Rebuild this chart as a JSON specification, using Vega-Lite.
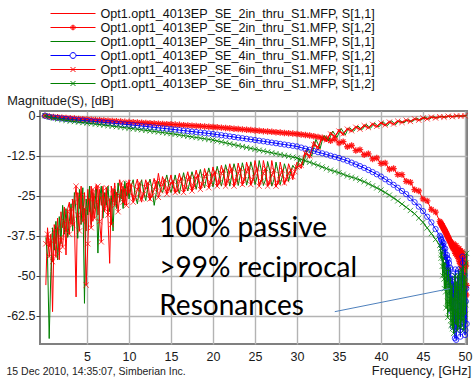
{
"$schema": "https://vega.github.io/schema/vega-lite/v6.json",
"width": 427, "height": 233,
"autosize": {"type": "none"},
"padding": {"left": 40, "top": 111, "right": 7, "bottom": 37},
"background": "white",
"config": {
  "view": {"stroke": "#808080", "strokeWidth": 2},
  "axis": {"labelFont": "Liberation Sans", "labelFontSize": 12.5, "labelColor": "#1a1a1a", "titleFont": "Liberation Sans", "titleFontSize": 12.8, "titleFontWeight": "normal", "titleColor": "#1a1a1a", "gridColor": "#b3b3b3", "gridWidth": 1.4, "domain": false, "tickColor": "#404040"},
  "legend": {"orient": "none", "legendX": 10, "legendY": -103.5, "direction": "vertical", "symbolSize": 2025, "symbolStrokeWidth": 1, "clipHeight": 12, "rowPadding": 1, "labelOffset": 4.5, "labelFont": "Liberation Sans", "labelFontSize": 12.6, "labelColor": "#111", "labelLimit": 400, "padding": 0, "symbolOpacity": 1}
},
"title": {"text": "15 Dec 2010, 14:35:07, Simberian Inc.", "orient": "bottom", "anchor": "start", "frame": "bounds", "offset": -10, "font": "Liberation Sans", "fontSize": 10.5, "fontWeight": "normal", "color": "#222"},
"datasets": {
"s11ac": [
{"fr":0.1,"a":-52.9,"c":-38},{"fr":0.3,"a":-35,"c":-44},{"fr":0.5,"a":-41,"c":-69.6},{"fr":0.7,"a":-37,"c":-48.7},{"fr":0.9,"a":-61.2,"c":-35},
{"fr":1.1,"a":-34,"c":-42},{"fr":1.3,"a":-40,"c":-33},{"fr":1.5,"a":-32,"c":-45},{"fr":1.7,"a":-45,"c":-31.5},{"fr":1.9,"a":-30,"c":-40},
{"fr":2.1,"a":-35,"c":-28},{"fr":2.3,"a":-28.5,"c":-37},{"fr":2.5,"a":-43.5,"c":-29},{"fr":2.7,"a":-29,"c":-38},{"fr":2.9,"a":-27,"c":-33},
{"fr":3.1,"a":-34,"c":-27.5},{"fr":3.3,"a":-26,"c":-36},{"fr":3.5,"a":-33,"c":-24},{"fr":3.7,"a":-56.6,"c":-30},{"fr":3.9,"a":-24,"c":-38.3},
{"fr":4.1,"a":-29,"c":-23},{"fr":4.3,"a":-22,"c":-34},{"fr":4.5,"a":-31,"c":-22.5},{"fr":4.7,"a":-24,"c":-58.6},{"fr":4.9,"a":-36,"c":-26},
{"fr":5.1,"a":-23,"c":-31},{"fr":5.3,"a":-30,"c":-22},{"fr":5.5,"a":-22,"c":-34},{"fr":5.7,"a":-33,"c":-24},{"fr":5.9,"a":-25,"c":-29},
{"fr":6.1,"a":-21.5,"c":-23},{"fr":6.3,"a":-31,"c":-42.9},{"fr":6.5,"a":-23,"c":-26},{"fr":6.7,"a":-28,"c":-22},{"fr":6.9,"a":-22,"c":-32},
{"fr":7.1,"a":-30,"c":-24},{"fr":7.3,"a":-24,"c":-28},{"fr":7.5,"a":-32,"c":-22},{"fr":7.7,"a":-46.1,"c":-30},{"fr":7.9,"a":-22,"c":-25},
{"fr":8.1,"a":-27,"c":-36},{"fr":8.3,"a":-21,"c":-23},{"fr":8.5,"a":-28,"c":-29},{"fr":8.7,"a":-23,"c":-21},{"fr":8.9,"a":-20,"c":-27},
{"fr":9.1,"a":-26,"c":-23},{"fr":9.3,"a":-22,"c":-29},{"fr":9.5,"a":-28,"c":-20.5},{"fr":9.7,"a":-21,"c":-25},{"fr":9.9,"a":-25,"c":-22},
{"fr":10,"a":-20,"c":-26},{"fr":10.25,"a":-24,"c":-22},{"fr":10.5,"a":-26.5,"c":-20},{"fr":10.75,"a":-22,"c":-25},
{"fr":11,"a":-19.8,"c":-27.5},{"fr":11.25,"a":-25,"c":-23},{"fr":11.5,"a":-27,"c":-20},{"fr":11.75,"a":-23,"c":-24},
{"fr":12,"a":-20,"c":-26.5},{"fr":12.25,"a":-24,"c":-22},{"fr":12.5,"a":-26.5,"c":-19.8},{"fr":12.75,"a":-22,"c":-23},
{"fr":13,"a":-19.6,"c":-28},{"fr":13.25,"a":-23,"c":-24},{"fr":13.5,"a":-18,"c":-20.5},{"fr":13.75,"a":-22,"c":-23},
{"fr":14,"a":-19,"c":-24},{"fr":14.25,"a":-23,"c":-21},{"fr":14.5,"a":-24,"c":-18.5},{"fr":14.75,"a":-21,"c":-22},
{"fr":15,"a":-18.5,"c":-24},{"fr":15.25,"a":-22,"c":-21.5},{"fr":15.5,"a":-24,"c":-18.5},{"fr":15.75,"a":-21,"c":-22},
{"fr":16,"a":-18,"c":-24.3},{"fr":16.25,"a":-21,"c":-21},{"fr":16.5,"a":-23.5,"c":-17.8},{"fr":16.75,"a":-20,"c":-21},
{"fr":17,"a":-17.5,"c":-23.5},{"fr":17.25,"a":-21,"c":-20.5},{"fr":17.5,"a":-23.5,"c":-17.5},{"fr":17.75,"a":-20,"c":-20},
{"fr":18,"a":-17,"c":-23},{"fr":18.25,"a":-20,"c":-19.5},{"fr":18.5,"a":-23,"c":-16.8},{"fr":18.75,"a":-20,"c":-20},
{"fr":19,"a":-16.5,"c":-22.5},{"fr":19.25,"a":-19,"c":-19},{"fr":19.5,"a":-22.5,"c":-16.3},{"fr":19.75,"a":-19.5,"c":-19},
{"fr":20,"a":-16,"c":-22.2},{"fr":20.25,"a":-19,"c":-19},{"fr":20.5,"a":-22.2,"c":-15.8},{"fr":20.75,"a":-19,"c":-18.5},
{"fr":21,"a":-15.5,"c":-22},{"fr":21.25,"a":-18,"c":-19},{"fr":21.5,"a":-22,"c":-15.3},{"fr":21.75,"a":-18.5,"c":-18},
{"fr":22,"a":-15,"c":-22},{"fr":22.25,"a":-18,"c":-18.5},{"fr":22.5,"a":-22,"c":-15},{"fr":22.75,"a":-19,"c":-17.5},
{"fr":23,"a":-14.8,"c":-21.8},{"fr":23.25,"a":-17.5,"c":-18.5},{"fr":23.5,"a":-21.8,"c":-14.7},{"fr":23.75,"a":-19,"c":-17.5},
{"fr":24,"a":-14.5,"c":-21.7},{"fr":24.25,"a":-17,"c":-19},{"fr":24.5,"a":-21.7,"c":-14.4},{"fr":24.75,"a":-19.5,"c":-17},
{"fr":25,"a":-14,"c":-21.5},{"fr":25.25,"a":-17,"c":-19},{"fr":25.5,"a":-21.5,"c":-14},{"fr":25.75,"a":-20,"c":-17},
{"fr":26,"a":-14,"c":-21.8},{"fr":26.25,"a":-17,"c":-20},{"fr":26.5,"a":-22,"c":-14.3},{"fr":26.75,"a":-20,"c":-17},
{"fr":27,"a":-14,"c":-22},{"fr":27.25,"a":-17.5,"c":-20},{"fr":27.5,"a":-22.3,"c":-14.5},{"fr":27.75,"a":-20,"c":-17.5},
{"fr":28,"a":-14.5,"c":-21.5},{"fr":28.25,"a":-17.5,"c":-19},{"fr":28.5,"a":-21.5,"c":-15},{"fr":28.75,"a":-19,"c":-17},
{"fr":29,"a":-15,"c":-20.5},{"fr":29.25,"a":-17,"c":-17.5},{"fr":29.5,"a":-20,"c":-15.5},{"fr":29.75,"a":-17,"c":-16.5},
{"fr":30,"a":-14.5,"c":-16.5},{"fr":30.25,"a":-15.5,"c":-13.5},{"fr":30.5,"a":-16.5,"c":-14.5},{"fr":30.75,"a":-13.5,"c":-15.5},
{"fr":31,"a":-10.8,"c":-12.8},{"fr":31.25,"a":-12,"c":-10},{"fr":31.5,"a":-13.3,"c":-11.3},{"fr":31.75,"a":-10.6,"c":-12.6},
{"fr":32,"a":-8,"c":-10},{"fr":32.25,"a":-9.4,"c":-7.4},{"fr":32.5,"a":-10.8,"c":-8.8},{"fr":32.75,"a":-8.3,"c":-10.3},
{"fr":33,"a":-6.6,"c":-7.8},{"fr":33.25,"a":-7.4,"c":-6.2},{"fr":33.5,"a":-8.2,"c":-7},{"fr":33.75,"a":-6.6,"c":-7.8},
{"fr":34,"a":-5.1,"c":-6.3},{"fr":34.25,"a":-6,"c":-4.8},{"fr":34.5,"a":-7,"c":-5.8},{"fr":34.75,"a":-5.6,"c":-6.8},
{"fr":35,"a":-4.2,"c":-5.4},{"fr":35.25,"a":-5.2,"c":-4},{"fr":35.5,"a":-6.2,"c":-5},{"fr":35.75,"a":-4.8,"c":-6},
{"fr":36,"a":-3.9,"c":-4.6},{"fr":36.25,"a":-4.45,"c":-3.75},{"fr":36.5,"a":-5,"c":-4.3},{"fr":36.75,"a":-4.15,"c":-4.85},
{"fr":37,"a":-3.3,"c":-4},{"fr":37.25,"a":-3.9,"c":-3.2},{"fr":37.5,"a":-4.5,"c":-3.8},{"fr":37.75,"a":-3.65,"c":-4.35},
{"fr":38,"a":-2.8,"c":-3.5},{"fr":38.25,"a":-3.4,"c":-2.7},{"fr":38.5,"a":-4,"c":-3.3},{"fr":38.75,"a":-3.2,"c":-3.9},
{"fr":39,"a":-2.4,"c":-3.1},{"fr":39.25,"a":-3,"c":-2.3},{"fr":39.5,"a":-3.6,"c":-2.9},{"fr":39.75,"a":-2.8,"c":-3.5},
{"fr":40,"a":-2,"c":-2.7},{"fr":40.25,"a":-2.6,"c":-1.9},{"fr":40.5,"a":-3.2,"c":-2.5},{"fr":40.75,"a":-2.45,"c":-3.15},
{"fr":41,"a":-1.65,"c":-2.35},{"fr":41.25,"a":-2.25,"c":-1.55},{"fr":41.5,"a":-2.9,"c":-2.2},{"fr":41.75,"a":-2.1,"c":-2.8},
{"fr":42,"a":-1.6,"c":-2},{"fr":42.25,"a":-1.95,"c":-1.55},{"fr":42.5,"a":-2.25,"c":-1.85},{"fr":42.75,"a":-1.8,"c":-2.2},
{"fr":43,"a":-1.3,"c":-1.7},{"fr":43.25,"a":-1.6,"c":-1.2},{"fr":43.5,"a":-1.9,"c":-1.5},{"fr":43.75,"a":-1.4,"c":-1.8},
{"fr":44,"a":-0.9,"c":-1.3},{"fr":44.25,"a":-1.2,"c":-0.8},{"fr":44.5,"a":-1.5,"c":-1.1},{"fr":44.75,"a":-1,"c":-1.4},
{"fr":45,"a":-0.5,"c":-0.9},{"fr":45.25,"a":-0.85,"c":-0.45},{"fr":45.5,"a":-1.15,"c":-0.75},{"fr":45.75,"a":-0.7,"c":-1.1},
{"fr":46,"a":-0.35,"c":-0.65},{"fr":46.25,"a":-0.6,"c":-0.3},{"fr":46.5,"a":-0.8,"c":-0.5},{"fr":46.75,"a":-0.45,"c":-0.75},
{"fr":47,"a":-0.2,"c":-0.4},{"fr":47.25,"a":-0.35,"c":-0.15},{"fr":47.5,"a":-0.5,"c":-0.3},{"fr":47.75,"a":-0.28,"c":-0.48},
{"fr":48,"a":-0.1,"c":-0.25},{"fr":48.25,"a":-0.2,"c":-0.05},{"fr":48.5,"a":-0.38,"c":-0.18},{"fr":48.75,"a":-0.15,"c":-0.35},
{"fr":49,"a":-0.02,"c":-0.1},{"fr":49.25,"a":-0.08,"c":-0.02},{"fr":49.5,"a":-0.2,"c":-0.05},{"fr":49.75,"a":-0.03,"c":-0.15},
{"fr":50,"a":0,"c":-0.05},{"fr":50.2,"a":-0.02,"c":0}
],
"s11e": [
{"fr":0.1,"e":-40},{"fr":0.3,"e":-37},{"fr":0.5,"e":-44},{"fr":0.7,"e":-39},{"fr":0.9,"e":-45.6},{"fr":1.1,"e":-36},{"fr":1.3,"e":-44},{"fr":1.5,"e":-35},{"fr":1.7,"e":-42},{"fr":1.9,"e":-38},
{"fr":2.1,"e":-41},{"fr":2.3,"e":-33},{"fr":2.5,"e":-36},{"fr":2.7,"e":-30},{"fr":2.9,"e":-37},{"fr":3.1,"e":-29},{"fr":3.3,"e":-34},{"fr":3.5,"e":-27},{"fr":3.7,"e":-22},{"fr":3.9,"e":-31},
{"fr":4.1,"e":-36},{"fr":4.3,"e":-25},{"fr":4.5,"e":-33},{"fr":4.7,"e":-29},{"fr":4.9,"e":-52.9},{"fr":5.1,"e":-40},{"fr":5.3,"e":-26},{"fr":5.5,"e":-35},{"fr":5.7,"e":-23},{"fr":5.9,"e":-32},
{"fr":6.1,"e":-27},{"fr":6.3,"e":-22},{"fr":6.5,"e":-33},{"fr":6.7,"e":-39.4},{"fr":6.9,"e":-25},{"fr":7.1,"e":-29},{"fr":7.3,"e":-22.5},{"fr":7.5,"e":-31},{"fr":7.7,"e":-26},{"fr":7.9,"e":-34},
{"fr":8.1,"e":-23},{"fr":8.3,"e":-28},{"fr":8.5,"e":-24},{"fr":8.7,"e":-30},{"fr":8.9,"e":-25},{"fr":9.1,"e":-21},{"fr":9.3,"e":-27},{"fr":9.5,"e":-23},{"fr":9.7,"e":-28},{"fr":9.9,"e":-21},
{"fr":10,"e":-24},{"fr":10.25,"e":-21.5},{"fr":10.5,"e":-27},{"fr":10.75,"e":-25.5},{"fr":11,"e":-23},{"fr":11.25,"e":-21},{"fr":11.5,"e":-26},{"fr":11.75,"e":-24.5},{"fr":12,"e":-22.5},{"fr":12.25,"e":-21},{"fr":12.5,"e":-26},{"fr":12.75,"e":-25},
{"fr":13,"e":-23},{"fr":13.25,"e":-20.5},{"fr":13.5,"e":-25.5},{"fr":13.75,"e":-23.5},{"fr":14,"e":-21.5},{"fr":14.25,"e":-20},{"fr":14.5,"e":-24.5},{"fr":14.75,"e":-23},
{"fr":15,"e":-21},{"fr":15.25,"e":-20.5},{"fr":15.5,"e":-24},{"fr":15.75,"e":-23.5},{"fr":16,"e":-20.5},{"fr":16.25,"e":-19.5},{"fr":16.5,"e":-24},{"fr":16.75,"e":-22.5},{"fr":17,"e":-20},{"fr":17.25,"e":-19},{"fr":17.5,"e":-23.5},{"fr":17.75,"e":-22},
{"fr":18,"e":-19.5},{"fr":18.25,"e":-18.5},{"fr":18.5,"e":-23},{"fr":18.75,"e":-21.5},{"fr":19,"e":-19},{"fr":19.25,"e":-18},{"fr":19.5,"e":-22.5},{"fr":19.75,"e":-21},
{"fr":20,"e":-18.5},{"fr":20.25,"e":-17.5},{"fr":20.5,"e":-22},{"fr":20.75,"e":-21},{"fr":21,"e":-18},{"fr":21.25,"e":-17},{"fr":21.5,"e":-22},{"fr":21.75,"e":-20.5},{"fr":22,"e":-17.5},{"fr":22.25,"e":-16.5},{"fr":22.5,"e":-22},{"fr":22.75,"e":-20.5},
{"fr":23,"e":-18},{"fr":23.25,"e":-16.5},{"fr":23.5,"e":-21.5},{"fr":23.75,"e":-20},{"fr":24,"e":-17.5},{"fr":24.25,"e":-16},{"fr":24.5,"e":-21.5},{"fr":24.75,"e":-20},
{"fr":25,"e":-18},{"fr":25.25,"e":-16.5},{"fr":25.5,"e":-22},{"fr":25.75,"e":-20.5},{"fr":26,"e":-18},{"fr":26.25,"e":-16.5},{"fr":26.5,"e":-22},{"fr":26.75,"e":-21},{"fr":27,"e":-18.5},{"fr":27.25,"e":-17},{"fr":27.5,"e":-22},{"fr":27.75,"e":-21},
{"fr":28,"e":-18.5},{"fr":28.25,"e":-17},{"fr":28.5,"e":-21},{"fr":28.75,"e":-20},{"fr":29,"e":-18},{"fr":29.25,"e":-17},{"fr":29.5,"e":-19},{"fr":29.75,"e":-17.5},
{"fr":30,"e":-16},{"fr":30.5,"e":-15.5},{"fr":31,"e":-11.8},{"fr":31.5,"e":-12.5},{"fr":32,"e":-9},{"fr":32.5,"e":-9.8},{"fr":33,"e":-7.2},{"fr":33.5,"e":-7.6},{"fr":34,"e":-5.7},{"fr":34.5,"e":-6.4},
{"fr":35,"e":-4.8},{"fr":35.5,"e":-5.6},{"fr":36,"e":-4.2},{"fr":36.5,"e":-4.7},{"fr":37,"e":-3.6},{"fr":37.5,"e":-4.2},{"fr":38,"e":-3.1},{"fr":38.5,"e":-3.7},{"fr":39,"e":-2.7},{"fr":39.5,"e":-3.3},
{"fr":40,"e":-2.3},{"fr":40.5,"e":-2.9},{"fr":41,"e":-2},{"fr":41.5,"e":-2.6},{"fr":42,"e":-1.7},{"fr":42.5,"e":-2.1},{"fr":43,"e":-1.4},{"fr":43.5,"e":-1.8},{"fr":44,"e":-1},{"fr":44.5,"e":-1.4},
{"fr":45,"e":-0.7},{"fr":45.5,"e":-1},{"fr":46,"e":-0.45},{"fr":46.5,"e":-0.7},{"fr":47,"e":-0.3},{"fr":47.5,"e":-0.45},{"fr":48,"e":-0.15},{"fr":48.5,"e":-0.3},{"fr":49,"e":-0.05},{"fr":49.5,"e":-0.15},{"fr":50,"e":0}
],
"s12": [
{"fr":0,"b":0,"d":0,"f":0},{"fr":0.5,"b":-0.25,"d":-0.35,"f":-0.5},{"fr":1,"b":-0.4,"d":-0.55,"f":-0.8},{"fr":1.5,"b":-0.5,"d":-0.7,"f":-1.05},{"fr":2,"b":-0.6,"d":-0.85,"f":-1.25},
{"fr":2.5,"b":-0.7,"d":-1,"f":-1.45},{"fr":3,"b":-0.8,"d":-1.12,"f":-1.65},{"fr":3.5,"b":-0.9,"d":-1.25,"f":-1.82},{"fr":4,"b":-1,"d":-1.38,"f":-2},{"fr":4.5,"b":-1.08,"d":-1.5,"f":-2.15},
{"fr":5,"b":-1.15,"d":-1.6,"f":-2.3},{"fr":5.5,"b":-1.24,"d":-1.72,"f":-2.46},{"fr":6,"b":-1.32,"d":-1.84,"f":-2.62},{"fr":6.5,"b":-1.41,"d":-1.96,"f":-2.78},{"fr":7,"b":-1.49,"d":-2.08,"f":-2.94},
{"fr":7.5,"b":-1.58,"d":-2.2,"f":-3.1},{"fr":8,"b":-1.66,"d":-2.32,"f":-3.26},{"fr":8.5,"b":-1.75,"d":-2.44,"f":-3.42},{"fr":9,"b":-1.83,"d":-2.56,"f":-3.58},{"fr":9.5,"b":-1.92,"d":-2.68,"f":-3.74},
{"fr":10,"b":-2,"d":-2.8,"f":-3.9},{"fr":10.5,"b":-2.07,"d":-2.94,"f":-4.07},{"fr":11,"b":-2.14,"d":-3.08,"f":-4.24},{"fr":11.5,"b":-2.21,"d":-3.22,"f":-4.41},{"fr":12,"b":-2.28,"d":-3.36,"f":-4.58},
{"fr":12.5,"b":-2.35,"d":-3.5,"f":-4.75},{"fr":13,"b":-2.42,"d":-3.64,"f":-4.92},{"fr":13.5,"b":-2.49,"d":-3.78,"f":-5.09},{"fr":14,"b":-2.56,"d":-3.92,"f":-5.26},{"fr":14.5,"b":-2.63,"d":-4.06,"f":-5.43},
{"fr":15,"b":-2.7,"d":-4.2,"f":-5.6},{"fr":15.5,"b":-2.78,"d":-4.35,"f":-5.8},{"fr":16,"b":-2.86,"d":-4.5,"f":-6},{"fr":16.5,"b":-2.94,"d":-4.65,"f":-6.2},{"fr":17,"b":-3.02,"d":-4.8,"f":-6.4},
{"fr":17.5,"b":-3.1,"d":-4.95,"f":-6.6},{"fr":18,"b":-3.18,"d":-5.1,"f":-6.8},{"fr":18.5,"b":-3.26,"d":-5.25,"f":-7},{"fr":19,"b":-3.34,"d":-5.4,"f":-7.2},{"fr":19.5,"b":-3.42,"d":-5.55,"f":-7.4},
{"fr":20,"b":-3.5,"d":-5.7,"f":-7.6},{"fr":20.5,"b":-3.61,"d":-5.89,"f":-7.89},{"fr":21,"b":-3.72,"d":-6.08,"f":-8.18},{"fr":21.5,"b":-3.83,"d":-6.27,"f":-8.47},{"fr":22,"b":-3.94,"d":-6.46,"f":-8.76},
{"fr":22.5,"b":-4.05,"d":-6.65,"f":-9.05},{"fr":23,"b":-4.16,"d":-6.84,"f":-9.34},{"fr":23.5,"b":-4.27,"d":-7.03,"f":-9.63},{"fr":24,"b":-4.38,"d":-7.22,"f":-9.92},{"fr":24.5,"b":-4.49,"d":-7.41,"f":-10.21},
{"fr":25,"b":-4.6,"d":-7.6,"f":-10.5},{"fr":25.5,"b":-4.71,"d":-7.8,"f":-10.77},{"fr":26,"b":-4.82,"d":-8,"f":-11.04},{"fr":26.5,"b":-4.93,"d":-8.2,"f":-11.31},{"fr":27,"b":-5.04,"d":-8.4,"f":-11.58},
{"fr":27.5,"b":-5.15,"d":-8.6,"f":-11.85},{"fr":28,"b":-5.26,"d":-8.8,"f":-12.12},{"fr":28.5,"b":-5.37,"d":-9,"f":-12.39},{"fr":29,"b":-5.48,"d":-9.2,"f":-12.66},{"fr":29.5,"b":-5.59,"d":-9.4,"f":-12.93},
{"fr":30,"b":-5.7,"d":-9.6,"f":-13.2},{"fr":30.5,"b":-5.85,"d":-9.95,"f":-13.65},{"fr":31,"b":-6,"d":-10.3,"f":-14.1},{"fr":31.5,"b":-6.2,"d":-10.65,"f":-14.55},{"fr":32,"b":-6.4,"d":-11,"f":-15},
{"fr":32.5,"b":-6.65,"d":-11.4,"f":-15.5},{"fr":33,"b":-6.9,"d":-11.75,"f":-16},{"fr":33.5,"b":-7.15,"d":-12.1,"f":-16.5},{"fr":34,"b":-7.8,"d":-12.5,"f":-17},{"fr":34.5,"b":-7.3,"d":-12.85,"f":-17.4},
{"fr":35,"b":-8.5,"d":-13.2,"f":-17.8},{"fr":35.5,"b":-8.1,"d":-13.65,"f":-18.3},{"fr":36,"b":-9.7,"d":-14.1,"f":-18.8},{"fr":36.5,"b":-9.3,"d":-14.65,"f":-19.2},{"fr":37,"b":-10.9,"d":-15.2,"f":-19.6},
{"fr":37.5,"b":-10.6,"d":-15.75,"f":-20.1},{"fr":38,"b":-12.2,"d":-16.3,"f":-20.6},{"fr":38.5,"b":-11.9,"d":-16.95,"f":-21.25},{"fr":39,"b":-13.5,"d":-17.6,"f":-21.9},{"fr":39.5,"b":-13.2,"d":-18.3,"f":-22.55},
{"fr":40,"b":-14.9,"d":-19,"f":-23.2},{"fr":40.5,"b":-14.8,"d":-19.85,"f":-24},{"fr":41,"b":-16.7,"d":-20.7,"f":-24.8},{"fr":41.5,"b":-16.5,"d":-21.6,"f":-25.7},{"fr":42,"b":-18.4,"d":-22.5,"f":-26.6},
{"fr":42.5,"b":-18.4,"d":-23.5,"f":-27.6},{"fr":43,"b":-20.5,"d":-24.5,"f":-28.6},{"fr":43.5,"b":-20.8,"d":-25.75,"f":-29.6},{"fr":44,"b":-23.1,"d":-27,"f":-30.6},{"fr":44.5,"b":-23.5,"d":-28.4,"f":-31.95},
{"fr":45,"b":-26,"d":-29.8,"f":-33.3},{"fr":45.5,"b":-26.6,"d":-31.55,"f":-35.05},{"fr":46,"b":-29.3,"d":-33.3,"f":-36.8},{"fr":46.5,"b":-30.1,"d":-35.4,"f":-38.65},{"fr":47,"b":-33,"d":-37.5,"f":-40.5},
{"fr":47.1,"b":-33.4,"d":-38,"f":-41.5},{"fr":47.2,"b":-33.9,"d":-38.8,"f":-43.5},{"fr":47.3,"b":-34.4,"d":-39.5,"f":-47},{"fr":47.4,"b":-34.9,"d":-40.5,"f":-44.5},{"fr":47.5,"b":-35.4,"d":-41.5,"f":-51},
{"fr":47.6,"b":-35.9,"d":-42.8,"f":-46},{"fr":47.7,"b":-36.4,"d":-44,"f":-55},{"fr":47.8,"b":-36.9,"d":-46.5,"f":-48},{"fr":47.9,"b":-37.5,"d":-44.5,"f":-58},{"fr":48,"b":-38,"d":-49,"f":-50},
{"fr":48.1,"b":-38.6,"d":-46,"f":-61},{"fr":48.2,"b":-39.2,"d":-53,"f":-53},{"fr":48.3,"b":-39.5,"d":-48,"f":-64},{"fr":48.4,"b":-40.3,"d":-58,"f":-55},{"fr":48.5,"b":-40.8,"d":-51,"f":-66.5},
{"fr":48.6,"b":-41.5,"d":-63,"f":-57},{"fr":48.7,"b":-40.6,"d":-54,"f":-62},{"fr":48.8,"b":-42.5,"d":-69.5,"f":-50},{"fr":48.9,"b":-41.2,"d":-57,"f":-65},{"fr":49,"b":-43.5,"d":-66,"f":-54},
{"fr":49.1,"b":-42,"d":-50,"f":-67},{"fr":49.2,"b":-44.5,"d":-61,"f":-58},{"fr":49.3,"b":-41.5,"d":-55,"f":-63},{"fr":49.4,"b":-46,"d":-67,"f":-49},{"fr":49.5,"b":-43,"d":-52,"f":-66},
{"fr":49.6,"b":-48,"d":-63,"f":-56},{"fr":49.7,"b":-42.5,"d":-44,"f":-61},{"fr":49.8,"b":-51,"d":-60,"f":-47},{"fr":49.9,"b":-44,"d":-54,"f":-64},{"fr":50,"b":-55.5,"d":-68.5,"f":-52},
{"fr":50.1,"b":-47,"d":-58,"f":-59},{"fr":50.2,"b":-53,"d":-65,"f":-43},
{"fr":47.15,"b":-33.7,"d":-38.6,"f":-44.5},{"fr":47.25,"b":-34.2,"d":-40.5,"f":-42.5},{"fr":47.35,"b":-34.7,"d":-42,"f":-50},{"fr":47.45,"b":-35.2,"d":-39.8,"f":-47},
{"fr":47.55,"b":-35.6,"d":-45,"f":-54},{"fr":47.65,"b":-36.1,"d":-41.5,"f":-49.5},{"fr":47.75,"b":-36.7,"d":-48.5,"f":-60},{"fr":47.85,"b":-37.2,"d":-43.5,"f":-52},
{"fr":47.95,"b":-37.8,"d":-52,"f":-63},{"fr":48.05,"b":-38.3,"d":-45,"f":-48},{"fr":48.15,"b":-38.9,"d":-56,"f":-59},{"fr":48.25,"b":-39.4,"d":-47.5,"f":-51},
{"fr":48.35,"b":-39.9,"d":-61,"f":-65.5},{"fr":48.45,"b":-40.6,"d":-50,"f":-53},{"fr":48.55,"b":-41.2,"d":-66,"f":-60},{"fr":48.65,"b":-40,"d":-52,"f":-68},
{"fr":48.75,"b":-41.8,"d":-64,"f":-56},{"fr":48.85,"b":-43,"d":-48,"f":-61},{"fr":48.95,"b":-40.5,"d":-70,"f":-52},{"fr":49.05,"b":-42.8,"d":-56,"f":-64},
{"fr":49.15,"b":-44,"d":-63,"f":-50},{"fr":49.25,"b":-41.8,"d":-48,"f":-66},{"fr":49.35,"b":-45.5,"d":-58,"f":-54},{"fr":49.45,"b":-42.2,"d":-69,"f":-62},
{"fr":49.55,"b":-47,"d":-50,"f":-48},{"fr":49.65,"b":-43.2,"d":-66,"f":-64},{"fr":49.75,"b":-50,"d":-46,"f":-55},{"fr":49.85,"b":-44.8,"d":-63,"f":-67},
{"fr":49.95,"b":-53,"d":-50,"f":-50},{"fr":50.05,"b":-46,"d":-67,"f":-62},{"fr":50.15,"b":-56,"d":-54,"f":-46}
]
},
"encoding": {
  "x": {"field": "fr", "type": "quantitative", "scale": {"domain": [-0.595, 50.24], "nice": false, "zero": false},
        "axis": {"values": [5,10,15,20,25,30,35,40,45,50], "title": "Frequency, [GHz]", "titleX": 430.7, "titleY": 26, "titleAlign": "right", "titleBaseline": "middle", "ticks": false, "tickSize": 0, "labelPadding": 6, "labelFlush": false}},
  "y": {"field": "m", "type": "quantitative", "scale": {"domain": [-71.3, 1.47], "nice": false, "zero": false},
        "axis": {"values": [0,-12.5,-25,-37.5,-50,-62.5], "title": "Magnitude(S), [dB]", "titleAngle": 0, "titleAlign": "left", "titleBaseline": "middle", "titleX": -33.3, "titleY": -10.5, "labelExpr": "datum.value + ''", "tickSize": 4, "labelPadding": 1}}
},
"layer": [
  {"data": {"name": "s11ac"}, "transform": [{"fold": ["a"], "as": ["s", "m"]}], "mark": {"type": "line", "color": "#ff0000", "strokeWidth": 1}},
  {"data": {"name": "s12"}, "transform": [{"fold": ["b"], "as": ["s", "m"]}], "mark": {"type": "line", "color": "#ff0000", "strokeWidth": 1}},
  {"data": {"name": "s12"}, "transform": [{"fold": ["b"], "as": ["s", "m"]}], "mark": {"type": "point", "shape": "M-1,0L1,0M0,-1L0,1M-0.7,-0.7L0.7,0.7M-0.7,0.7L0.7,-0.7", "size": 42, "color": "#ff0000", "filled": false, "strokeWidth": 1.3, "opacity": 0.85}},
  {"data": {"name": "s11ac"}, "transform": [{"fold": ["c"], "as": ["s", "m"]}], "mark": {"type": "line", "color": "#008000", "strokeWidth": 1}},
  {"data": {"name": "s12"}, "transform": [{"fold": ["d"], "as": ["s", "m"]}], "mark": {"type": "line", "color": "#0000ff", "strokeWidth": 1}},
  {"data": {"name": "s12"}, "transform": [{"fold": ["d"], "as": ["s", "m"]}], "mark": {"type": "point", "shape": "circle", "size": 28, "color": "#0000ff", "filled": false, "strokeWidth": 1, "opacity": 0.75}},
  {"data": {"name": "s11e"}, "transform": [{"fold": ["e"], "as": ["s", "m"]}], "mark": {"type": "line", "color": "#ff0000", "strokeWidth": 1}},
  {"data": {"name": "s11e"}, "transform": [{"fold": ["e"], "as": ["s", "m"]}], "mark": {"type": "point", "shape": "M-1,-1L1,1M-1,1L1,-1", "size": 28, "color": "#ff0000", "filled": false, "strokeWidth": 1, "opacity": 0.7}},
  {"data": {"name": "s12"}, "transform": [{"fold": ["f"], "as": ["s", "m"]}], "mark": {"type": "line", "color": "#008000", "strokeWidth": 1}},
  {"data": {"name": "s12"}, "transform": [{"fold": ["f"], "as": ["s", "m"]}], "mark": {"type": "point", "shape": "M-1,-1L1,1M-1,1L1,-1", "size": 28, "color": "#008000", "filled": false, "strokeWidth": 1, "opacity": 0.7}},
  {"data": {"values": [
      {"fr": 13.6, "m": -37.8, "tx": "100% passive"},
      {"fr": 13.6, "m": -50.3, "tx": ">99% reciprocal"},
      {"fr": 13.6, "m": -62.3, "tx": "Resonances"}]},
   "mark": {"type": "text", "align": "left", "baseline": "alphabetic", "font": "Lato", "fontSize": 28, "color": "#000000"},
   "encoding": {"text": {"field": "tx", "type": "nominal"}}},
  {"data": {"values": [{"fr": 34.5, "m": -61.2, "fr2": 48.2, "m2": -54}]},
   "mark": {"type": "rule", "color": "#4f81bd", "strokeWidth": 1},
   "encoding": {"x2": {"field": "fr2"}, "y2": {"field": "m2"}}},
  {"data": {"values": [
      {"s": "Opt1.opt1_4013EP_SE_2in_thru_S1.MFP, S[1,1]"},
      {"s": "Opt1.opt1_4013EP_SE_2in_thru_S1.MFP, S[1,2]"},
      {"s": "Opt1.opt1_4013EP_SE_4in_thru_S1.MFP, S[1,1]"},
      {"s": "Opt1.opt1_4013EP_SE_4in_thru_S1.MFP, S[1,2]"},
      {"s": "Opt1.opt1_4013EP_SE_6in_thru_S1.MFP, S[1,1]"},
      {"s": "Opt1.opt1_4013EP_SE_6in_thru_S1.MFP, S[1,2]"}]},
   "mark": {"type": "point", "filled": false, "opacity": 0},
   "encoding": {
     "color": {"field": "s", "type": "nominal",
       "scale": {"domain": ["Opt1.opt1_4013EP_SE_2in_thru_S1.MFP, S[1,1]","Opt1.opt1_4013EP_SE_2in_thru_S1.MFP, S[1,2]","Opt1.opt1_4013EP_SE_4in_thru_S1.MFP, S[1,1]","Opt1.opt1_4013EP_SE_4in_thru_S1.MFP, S[1,2]","Opt1.opt1_4013EP_SE_6in_thru_S1.MFP, S[1,1]","Opt1.opt1_4013EP_SE_6in_thru_S1.MFP, S[1,2]"],
                 "range": ["#ff0000","#ff0000","#008000","#0000ff","#ff0000","#008000"]},
       "legend": {"title": null}},
     "shape": {"field": "s", "type": "nominal",
       "scale": {"domain": ["Opt1.opt1_4013EP_SE_2in_thru_S1.MFP, S[1,1]","Opt1.opt1_4013EP_SE_2in_thru_S1.MFP, S[1,2]","Opt1.opt1_4013EP_SE_4in_thru_S1.MFP, S[1,1]","Opt1.opt1_4013EP_SE_4in_thru_S1.MFP, S[1,2]","Opt1.opt1_4013EP_SE_6in_thru_S1.MFP, S[1,1]","Opt1.opt1_4013EP_SE_6in_thru_S1.MFP, S[1,2]"],
                 "range": ["M-1,0L1,0",
                           "M-1,0L1,0M-0.1,0A0.1,0.1,0,1,0,0.1,0A0.1,0.1,0,1,0,-0.1,0M-0.05,0A0.05,0.05,0,1,0,0.05,0A0.05,0.05,0,1,0,-0.05,0",
                           "M-1,0L1,0",
                           "M-1,0L-0.13,0M0.13,0L1,0M-0.13,0A0.13,0.13,0,1,0,0.13,0A0.13,0.13,0,1,0,-0.13,0",
                           "M-1,0L1,0M-0.11,-0.11L0.11,0.11M-0.11,0.11L0.11,-0.11",
                           "M-1,0L1,0M-0.11,-0.11L0.11,0.11M-0.11,0.11L0.11,-0.11"]},
       "legend": {"title": null}}
   }}
]
}
